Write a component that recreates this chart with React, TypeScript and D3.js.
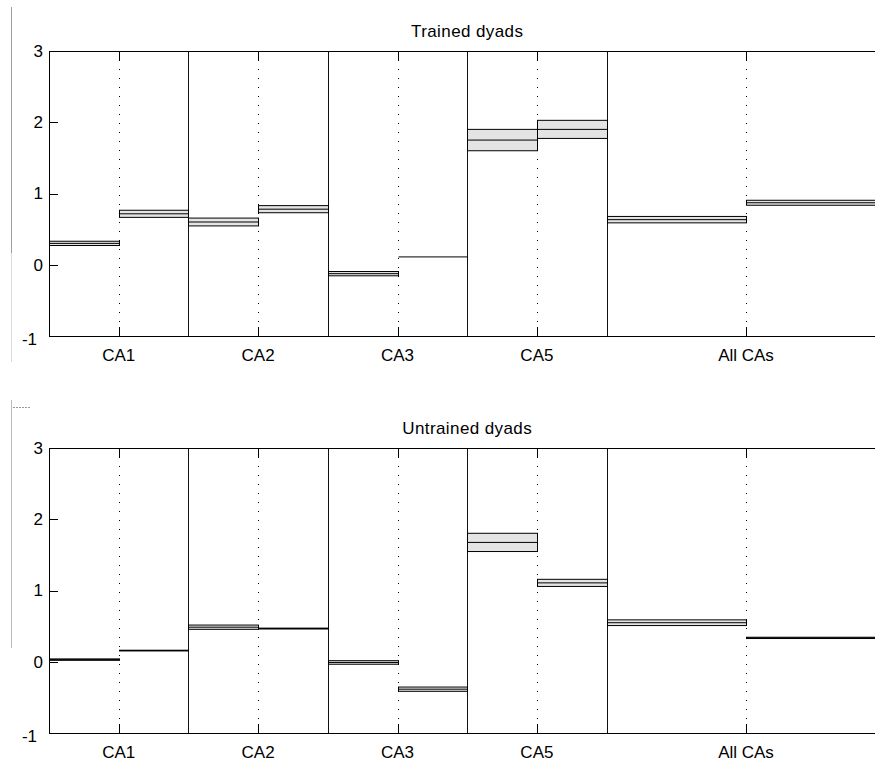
import React from "react";
import * as d3 from "d3";

// ---------- data ----------
const categories = ["CA1", "CA2", "CA3", "CA5", "All CAs"];
const categorySpan = [1, 1, 1, 1, 2];
const yTicks = [-1, 0, 1, 2, 3];
const panelTitles = ["Trained dyads", "Untrained dyads"];

// left half / right half of every category: mean and half-width of the band
const trainedLeftMean = [0.3, 0.6, -0.125, 1.75, 0.633];
const trainedLeftHalf = [0.03, 0.055, 0.03, 0.15, 0.045];
const trainedRightMean = [0.715, 0.78, 0.11, 1.9, 0.87];
const trainedRightHalf = [0.05, 0.05, 0, 0.127, 0.035];

const untrainedLeftMean = [0.03, 0.485, -0.01, 1.675, 0.548];
const untrainedLeftHalf = [0.01, 0.03, 0.025, 0.128, 0.04];
const untrainedRightMean = [0.157, 0.466, -0.385, 1.107, 0.335];
const untrainedRightHalf = [0.005, 0.006, 0.03, 0.05, 0.009];

const panels = [
  {
    title: panelTitles[0],
    leftMean: trainedLeftMean,
    leftHalf: trainedLeftHalf,
    rightMean: trainedRightMean,
    rightHalf: trainedRightHalf,
  },
  {
    title: panelTitles[1],
    leftMean: untrainedLeftMean,
    leftHalf: untrainedLeftHalf,
    rightMean: untrainedRightMean,
    rightHalf: untrainedRightHalf,
  },
];

// ---------- layout ----------
const W = 875;
const H = 764;
const axLeft = 49;
const unitW = 139.4;
const panelBoxes = [
  { top: 51, bottom: 336 },
  { top: 448, bottom: 733 },
];
const FONT = "'Liberation Sans', Arial, Helvetica, sans-serif";

function Panel({ p, box }: { p: any; box: { top: number; bottom: number } }) {
  const totalSpan = d3.sum(categorySpan);
  const x = d3.scaleLinear().domain([0, totalSpan]).range([axLeft, axLeft + totalSpan * unitW]);
  const y = d3.scaleLinear().domain([-1, 3]).range([box.bottom, box.top]);
  const starts = categorySpan.map((_, i) => d3.sum(categorySpan.slice(0, i)));
  const tickVals = starts.map((s, i) => s + categorySpan[i] / 2);
  const xEnd = x(totalSpan);

  const bands: any[] = [];
  categories.forEach((c, i) => {
    const s = starts[i];
    const half = categorySpan[i] / 2;
    bands.push({ x0: s, x1: s + half, m: p.leftMean[i], h: p.leftHalf[i] });
    bands.push({ x0: s + half, x1: s + 2 * half, m: p.rightMean[i], h: p.rightHalf[i] });
  });

  return (
    <g>
      <text
        x={(axLeft + xEnd) / 2}
        y={box.top - 14}
        textAnchor="middle"
        fontFamily={FONT}
        fontSize={17}
        letterSpacing={0.4}
        fill="#000"
      >
        {p.title}
      </text>

      {/* dotted lines at category centers */}
      {tickVals.map((t, i) => (
        <line
          key={"dot" + i}
          x1={Math.round(x(t)) + 0.5}
          x2={Math.round(x(t)) + 0.5}
          y1={box.top}
          y2={box.bottom}
          stroke="#000"
          strokeWidth={1}
          strokeDasharray="1 8"
        />
      ))}

      {/* category dividers */}
      {starts.slice(1).map((s, i) => (
        <line
          key={"div" + i}
          x1={Math.round(x(s)) + 0.5}
          x2={Math.round(x(s)) + 0.5}
          y1={box.top}
          y2={box.bottom}
          stroke="#111"
          strokeWidth={1}
        />
      ))}

      {/* bands */}
      {bands.map((b, i) => {
        const x0 = Math.round(x(b.x0)) + 0.5;
        const x1 = Math.round(x(b.x1)) + 0.5;
        const yt = y(b.m + b.h);
        const yb = y(b.m - b.h);
        const ym = y(b.m);
        return (
          <g key={"b" + i}>
            <rect
              x={x0}
              y={yt}
              width={x1 - x0}
              height={Math.max(yb - yt, 0)}
              fill="#e4e4e4"
              stroke="#000"
              strokeWidth={1}
            />
            <line x1={x0} x2={x1} y1={ym} y2={ym} stroke="#000" strokeWidth={1} />
          </g>
        );
      })}

      {/* frame */}
      <line x1={axLeft + 0.5} x2={axLeft + 0.5} y1={box.top} y2={box.bottom} stroke="#000" strokeWidth={1} />
      <line x1={axLeft} x2={xEnd} y1={box.top + 0.5} y2={box.top + 0.5} stroke="#000" strokeWidth={1.2} />
      <line x1={axLeft} x2={xEnd} y1={box.bottom + 0.5} y2={box.bottom + 0.5} stroke="#000" strokeWidth={1} />

      {/* y ticks */}
      {yTicks.map((t) => (
        <g key={"yt" + t}>
          <line x1={axLeft} x2={axLeft + 9} y1={Math.round(y(t)) + 0.5} y2={Math.round(y(t)) + 0.5} stroke="#000" />
          <text
            x={t === -1 ? 37 : 43}
            y={y(t) + (t === -1 ? 3 : 0)}
            dy="0.35em"
            textAnchor="end"
            fontFamily={FONT}
            fontSize={17}
            fill="#000"
          >
            {t}
          </text>
        </g>
      ))}

      {/* x ticks */}
      {tickVals.map((t, i) => (
        <g key={"xt" + i}>
          <line x1={Math.round(x(t)) + 0.5} x2={Math.round(x(t)) + 0.5} y1={box.bottom} y2={box.bottom - 9} stroke="#000" />
          <line x1={Math.round(x(t)) + 0.5} x2={Math.round(x(t)) + 0.5} y1={box.top} y2={box.top + 9} stroke="#000" />
          <text
            x={x(t)}
            y={box.bottom + 25}
            textAnchor="middle"
            fontFamily={FONT}
            fontSize={17}
            fill="#000"
          >
            {categories[i]}
          </text>
        </g>
      ))}
    </g>
  );
}

export default function App() {
  return (
    <svg
      width={W}
      height={H}
      viewBox={`0 0 ${W} ${H}`}
      style={{ position: "absolute", left: 0, top: 0, background: "#fff" }}
    >
      <rect x={0} y={0} width={W} height={H} fill="#fff" />
      {/* faint artifacts at the left edge */}
      <line x1={11.5} x2={11.5} y1={7} y2={253} stroke="#a0a0a0" strokeWidth={1} />
      <line x1={11.5} x2={11.5} y1={253} y2={362} stroke="#dcdcdc" strokeWidth={1} />
      <line x1={11.5} x2={11.5} y1={400} y2={648} stroke="#bdbdbd" strokeWidth={1} />
      <line x1={13} x2={30} y1={407.5} y2={407.5} stroke="#9a9a9a" strokeWidth={1} strokeDasharray="2 1" />
      {panels.map((p, i) => (
        <Panel key={i} p={p} box={panelBoxes[i]} />
      ))}
    </svg>
  );
}
